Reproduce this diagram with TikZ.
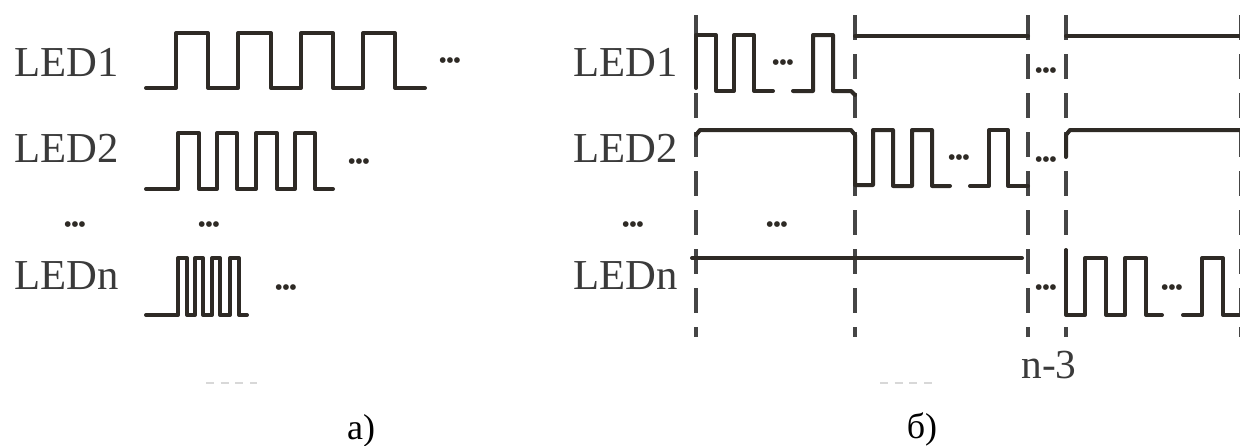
\documentclass[tikz,border=0pt]{standalone}
\usepackage{fontspec}
\setmainfont{Liberation Serif}
\definecolor{wave}{HTML}{2E2A25}
\definecolor{lab}{HTML}{3A3A3A}
\definecolor{dashc}{HTML}{454545}
\definecolor{faintc}{HTML}{D8D8D8}
\tikzset{
  sig/.style={draw=wave,line width=3pt,line join=round,line cap=round},
  guide/.style={draw=dashc,line width=2.6pt,dash pattern=on 18.75pt off 10.5pt},
  faintmark/.style={draw=faintc,line width=1pt,dash pattern=on 6pt off 5pt},
  ledlabel/.style={anchor=base west,inner sep=0pt,text=lab,font=\fontsize{32}{32}\selectfont},
  dotsmark/.style={anchor=base,inner sep=0pt,text=wave,font=\fontsize{18}{18}\selectfont},
  caption/.style={anchor=base,inner sep=0pt,text=black,font=\fontsize{27}{27}\selectfont},
  countlabel/.style={anchor=base,inner sep=0pt,text=lab,font=\fontsize{31}{31}\selectfont}
}
\begin{document}
\begin{tikzpicture}[x=0.75pt,y=-0.75pt]
\useasboundingbox (0,0) rectangle (1240,446);
% labels
\node[ledlabel] (la1) at (14,76) {LED1};
\node[ledlabel] (la2) at (14,162) {LED2};
\node[ledlabel] (lan) at (14,289) {LEDn};
\node[ledlabel] (lb1) at (573,76) {LED1};
\node[ledlabel] (lb2) at (573,162) {LED2};
\node[ledlabel] (lbn) at (573,289) {LEDn};
% guides
\foreach \x in {696,855,1028,1066,1241}
  \draw[guide] (\x,15) -- (\x,337);
% panel a signals
\draw[sig] (146,88) -| (176,33) -| (208,88) -| (238,33) -| (271,88) -| (301,33) -| (333,88) -| (363,33) -| (395,88) -- (425,88);
\draw[sig] (146,189) -| (178,133) -| (199,189) -| (217,133) -| (237,189) -| (256,133) -| (277,189) -| (295,133) -| (315,189) -- (333,189);
\draw[sig] (146,315) -| (178,258) -| (187,315) -| (195,258) -| (203,315) -| (212,258) -| (220,315) -| (230,258) -| (239,315) -- (247,315);
% panel b signals
\draw[sig] (696,88) |- (716,35) |- (734,91) |- (754,35) |- (773,91);
\draw[sig] (793,91) -| (813,35) -| (833,91) -- (851,91) -- (855,95);
\draw[sig] (855,36) -- (1028,36);
\draw[sig] (1066,36) -- (1240,36);
\draw[sig] (696,135) -- (700,130) -- (851,130) -- (855,135) -- (855,185) -| (873,130) -| (893,186) -| (912,130) -| (932,186) -- (950,186);
\draw[sig] (970,186) -| (989,130) -| (1008,186) -- (1028,186);
\draw[sig] (1066,157) -- (1066,135) -- (1070,130) -- (1240,130);
\draw[sig] (692,258) -- (1022,258);
\draw[sig] (1066,250) |- (1085,315) |- (1106,258) |- (1125,315) |- (1146,258) |- (1162,315);
\draw[sig] (1183,315) -| (1202,258) -| (1223,315) -- (1240,315);
% dots
\foreach \n/\x/\y in {da1/450/60,da2/359/161,da3/75/224,da4/209/224,da5/286/287,db1/783/62,db2/959/157,db3/633/224,db4/777/224,db5/1046/70,db6/1046/159,db7/1046/287,db8/1172/287}
  \node[dotsmark] (\n) at (\x,\y+8) {•\kern-1pt•\kern-1pt•};
% captions
\node[caption] (capa) at (361,439) {а)};
\node[caption] (capb) at (922,438) {б)};
\node[countlabel] (cnt) at (1049,378) {n-3};
% faint marks
\draw[faintmark] (206,383) -- (257,383);
\draw[faintmark] (880,383) -- (935,383);
\end{tikzpicture}
\end{document}
